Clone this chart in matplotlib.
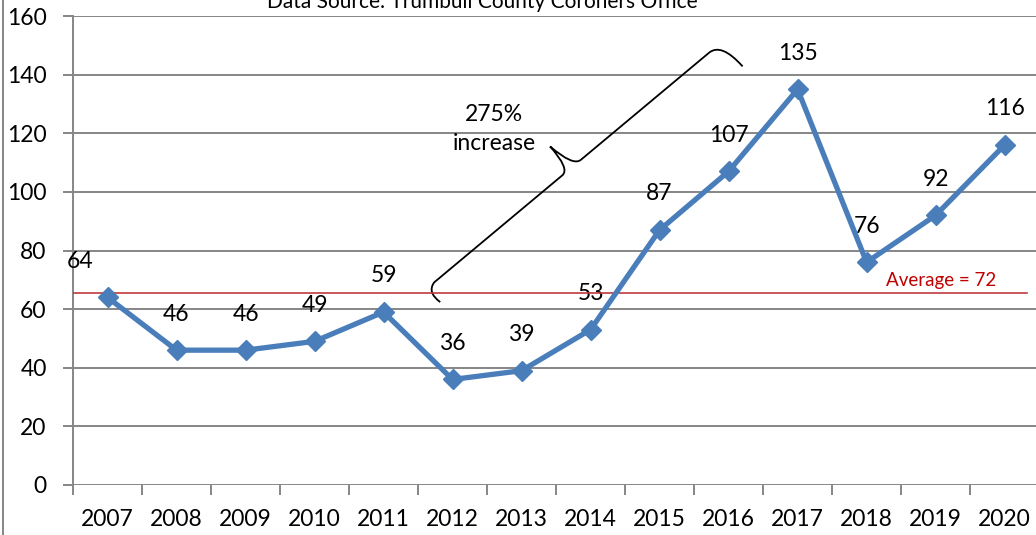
import numpy as np
import matplotlib
matplotlib.use("Agg")
import matplotlib.pyplot as plt
from matplotlib.path import Path
from matplotlib.patches import PathPatch
from matplotlib.transforms import IdentityTransform

years = ["2007", "2008", "2009", "2010", "2011", "2012", "2013",
         "2014", "2015", "2016", "2017", "2018", "2019", "2020"]
deaths = [64, 46, 46, 49, 59, 36, 39, 53, 87, 107, 135, 76, 92, 116]
avg_line = 65.5          # where the red line is drawn
avg_label = "Average = 72"
note = "275%\nincrease"
source = "Data Source: Trumbull County Coroners Office"

plt.rcParams['font.family'] = ['Lato', 'DejaVu Sans']

fig = plt.figure(figsize=(10.36, 5.35), dpi=100)
ax = fig.add_axes([0.0705, 0.0935, 0.9325, 0.8765])

x = np.arange(len(years))
ax.set_xlim(-0.5, len(years) - 0.5)
ax.set_ylim(0, 160)
ax.set_yticks(range(0, 161, 20))
ax.yaxis.grid(True, color="#868686", lw=1.4)
ax.set_axisbelow(True)
for s in ["top", "right", "bottom"]:
    ax.spines[s].set_visible(False)
ax.spines["left"].set_color("#868686")
ax.spines["left"].set_linewidth(1.4)

# category boundaries as ticks, labels at centres
ax.set_xticks(np.arange(-0.5, len(years), 1.0))
ax.set_xticklabels([])
ax.set_xticks(x, minor=True)
ax.set_xticklabels(years, minor=True, fontsize=16.5)
ax.tick_params(axis="x", which="major", length=7, width=1.4, color="#868686", direction="out")
ax.tick_params(axis="x", which="minor", length=0, pad=17)
ax.tick_params(axis="y", length=7, width=1.4, color="#868686", labelsize=16.5, pad=12)

ax.plot(x, deaths, color="#4A7EBB", lw=3.8, marker="D", markersize=10, zorder=5)

for i, v in enumerate(deaths):
    dx = -20 if i == 0 else 0
    ax.annotate(str(v), (x[i], v), xytext=(dx, 26), textcoords="offset points",
                ha="center", va="center", fontsize=16.5)

# average line
ax.plot([-0.5, 13.33], [avg_line, avg_line], color="#C0393B", lw=1.2, zorder=4)
ax.text(12.08, avg_line + 1.3, avg_label, color="#C00000", fontsize=13.5,
        ha="center", va="bottom")

# brace from 2011/2012 up to 2016/2017
ax.text(5.6, 121.5, note, ha="center", va="center", fontsize=16.5, linespacing=1.45)
fig.canvas.draw()
p0 = ax.transData.transform((4.60, 66.5))
p1 = ax.transData.transform((8.85, 150.1))
u = (p1 - p0) / np.hypot(*(p1 - p0))
v = np.array([-u[1], u[0]])
L = np.hypot(*(p1 - p0))
he, he2, ht, r = 19, 32, 30, 12
local = [(4, -he), (0, -3), (r, 0), (L / 2 - r, 0), (L / 2 - 2, 0), (L / 2 - 3, ht),
         (L / 2 + 2, 0), (L / 2 + r, 0), (L - r, 0), (L + 4, 0), (L + 5, -he2)]
codes = [Path.MOVETO, Path.CURVE3, Path.CURVE3, Path.LINETO, Path.CURVE3, Path.CURVE3,
         Path.CURVE3, Path.CURVE3, Path.LINETO, Path.CURVE3, Path.CURVE3]
pts = [p0 + a * u + b * v for a, b in local]
ax.add_patch(PathPatch(Path(pts, codes), fill=False, lw=1.3, color="black",
                       transform=IdentityTransform(), clip_on=False))

fig.text(0.466, 0.997, source, ha="center", va="center", fontsize=15)
fig.add_artist(plt.Line2D([0.003, 0.003], [0, 1], color="#868686", lw=1.4))

fig.savefig("out.png", dpi=100)
